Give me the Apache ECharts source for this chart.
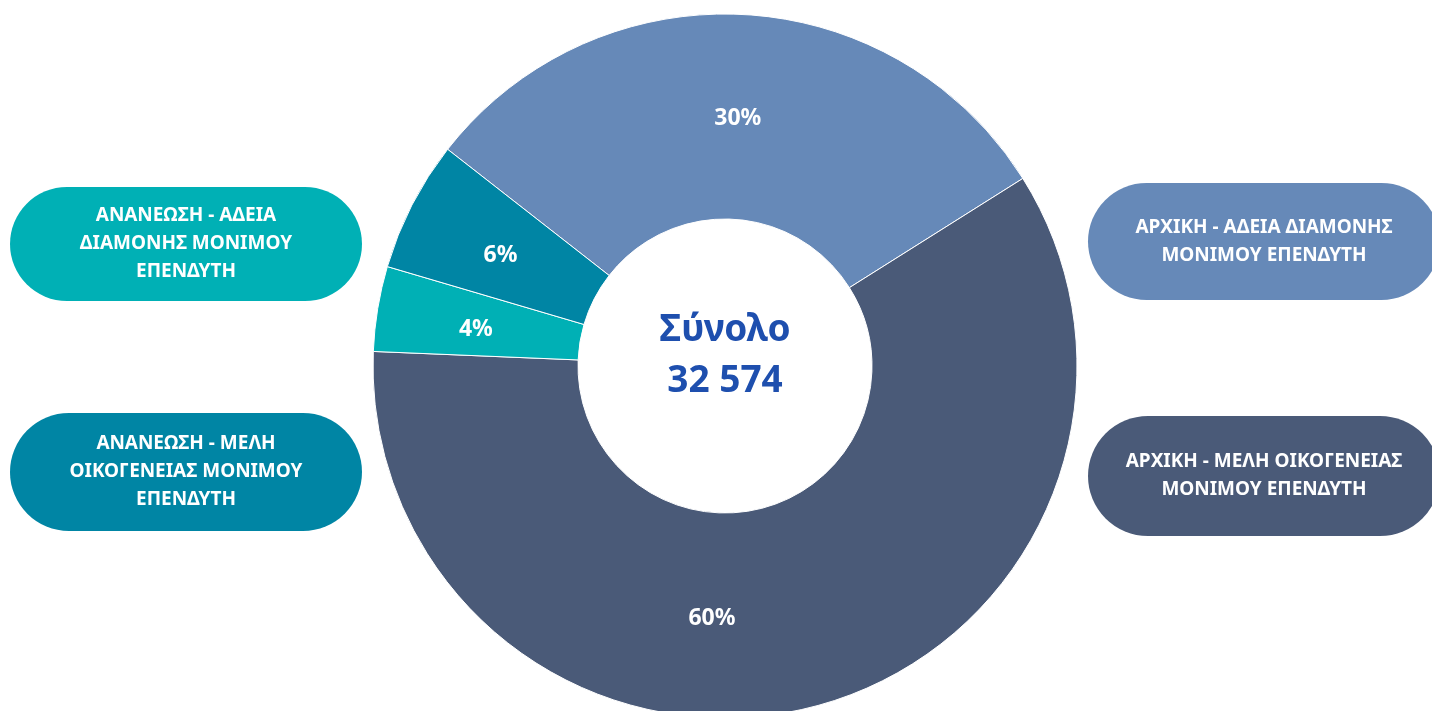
<!DOCTYPE html>
<html>
<head>
<meta charset="utf-8">
<script src="https://cdn.jsdelivr.net/npm/echarts@6/dist/echarts.min.js"></script>
<style>
html,body{margin:0;padding:0;background:#fff;}
#c{width:1432px;height:711px;}
</style>
</head>
<body>
<div id="c"></div>
<script>
// Data
const categories = [
  'ΑΡΧΙΚΗ - ΑΔΕΙΑ ΔΙΑΜΟΝΗΣ ΜΟΝΙΜΟΥ ΕΠΕΝΔΥΤΗ',
  'ΑΡΧΙΚΗ - ΜΕΛΗ ΟΙΚΟΓΕΝΕΙΑΣ ΜΟΝΙΜΟΥ ΕΠΕΝΔΥΤΗ',
  'ΑΝΑΝΕΩΣΗ - ΑΔΕΙΑ ΔΙΑΜΟΝΗΣ ΜΟΝΙΜΟΥ ΕΠΕΝΔΥΤΗ',
  'ΑΝΑΝΕΩΣΗ - ΜΕΛΗ ΟΙΚΟΓΕΝΕΙΑΣ ΜΟΝΙΜΟΥ ΕΠΕΝΔΥΤΗ'
];
const values = [9935, 19415, 1270, 1954];
const percentLabels = ['30%', '60%', '4%', '6%'];
const pillLines = [
  ['ΑΡΧΙΚΗ - ΑΔΕΙΑ ΔΙΑΜΟΝΗΣ', 'ΜΟΝΙΜΟΥ ΕΠΕΝΔΥΤΗ'],
  ['ΑΡΧΙΚΗ - ΜΕΛΗ ΟΙΚΟΓΕΝΕΙΑΣ', 'ΜΟΝΙΜΟΥ ΕΠΕΝΔΥΤΗ'],
  ['ΑΝΑΝΕΩΣΗ - ΑΔΕΙΑ', 'ΔΙΑΜΟΝΗΣ ΜΟΝΙΜΟΥ', 'ΕΠΕΝΔΥΤΗ'],
  ['ΑΝΑΝΕΩΣΗ - ΜΕΛΗ', 'ΟΙΚΟΓΕΝΕΙΑΣ ΜΟΝΙΜΟΥ', 'ΕΠΕΝΔΥΤΗ']
];
const totalLabel = 'Σύνολο';
const totalValue = '32 574';

// Styles / layout
const colors = ['#6689B8', '#4A5A78', '#00B0B5', '#0085A4'];
const labelOffsets = [[0, 5], [-78, 8], [0, 5], [0, 5]];
const pillBoxes = [
  {x: 1088, y: 183, w: 352, h: 117},
  {x: 1088, y: 416, w: 352, h: 120},
  {x: 10, y: 187, w: 352, h: 114},
  {x: 10, y: 413, w: 352, h: 118}
];
const FONT = '"Noto Sans", "Open Sans", sans-serif';
const CX = 725, CY = 366;

const chart = echarts.init(document.getElementById('c'), null, {renderer: 'canvas'});

const graphics = pillBoxes.map((b, i) => ({
  type: 'rect',
  left: b.x, top: b.y,
  shape: {width: b.w, height: b.h, r: b.h / 2},
  style: {fill: colors[i]},
  textContent: {
    style: {
      text: pillLines[i].join('\n'),
      fill: '#fff',
      font: 'bold 19px ' + FONT,
      lineHeight: 28,
      align: 'center',
      verticalAlign: 'middle'
    }
  },
  textConfig: {position: 'inside'}
}));

graphics.push({
  type: 'text',
  style: {
    text: totalLabel, x: CX, y: 330,
    fill: '#1E4FAE', font: 'bold 37px ' + FONT,
    align: 'center', verticalAlign: 'middle'
  }
});
graphics.push({
  type: 'text',
  style: {
    text: totalValue, x: CX, y: 381,
    fill: '#1E4FAE', font: 'bold 37px ' + FONT,
    align: 'center', verticalAlign: 'middle'
  }
});

chart.setOption({
  animation: false,
  color: colors,
  graphic: graphics,
  series: [{
    type: 'pie',
    center: [CX, CY],
    radius: [147, 352],
    startAngle: 142,
    clockwise: true,
    avoidLabelOverlap: false,
    itemStyle: {borderColor: '#fff', borderWidth: 1},
    label: {
      show: true,
      position: 'inside',
      color: '#fff',
      fontFamily: FONT,
      fontWeight: 'bold',
      fontSize: 23,
      formatter: p => percentLabels[p.dataIndex]
    },
    labelLine: {show: false},
    data: categories.map((c, i) => ({
      name: c, value: values[i],
      label: {offset: labelOffsets[i]}
    }))
  }]
});
</script>
</body>
</html>
